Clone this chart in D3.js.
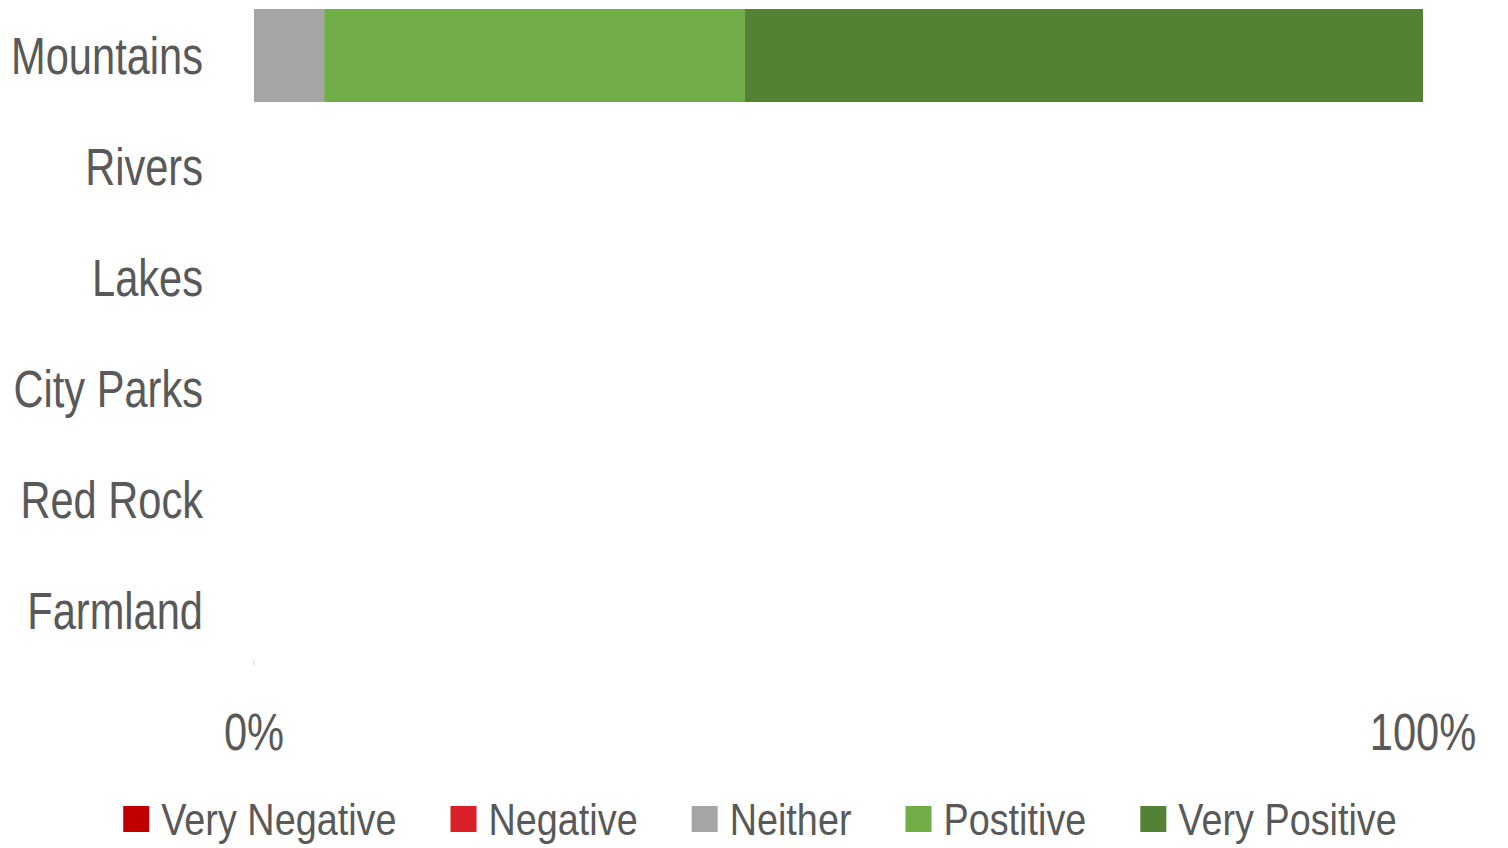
<!DOCTYPE html>
<html>
<head>
  <meta charset="utf-8">
  <style>
    body { margin: 0; background: #fff; }
    svg { display: block; font-family: "Liberation Sans Narrow", "Arial Narrow", "Liberation Sans", Arial, sans-serif; }
    svg text { fill: #595959; }
  </style>
</head>
<body>
  <svg width="1508" height="848"></svg>
  <script src="https://d3js.org/d3.v7.min.js"></script>
  <script>
    // categories (top to bottom)
    var categories = ["Mountains", "Rivers", "Lakes", "City Parks", "Red Rock", "Farmland"];
    var seriesKeys = ["Very Negative", "Negative", "Neither", "Postitive", "Very Positive"];
    var seriesColors = ["#C00000", "#DA1F28", "#A5A5A5", "#70AD47", "#548235"];

    // percent values per series, one per category
    var veryNegative = [0, 0, 0, 0, 0, 0];
    var negative     = [0, 0, 0, 0, 0, 0];
    var neither      = [6, 0, 0, 0, 0, 0];
    var positive     = [36, 0, 0, 0, 0, 0];
    var veryPositive = [58, 0, 0, 0, 0, 0];

    var xTicks = [0, 100];

    var seriesValues = [veryNegative, negative, neither, positive, veryPositive];

    var data = categories.map(function(c, i) {
      var row = {cat: c};
      seriesKeys.forEach(function(k, j) { row[k] = seriesValues[j][i]; });
      return row;
    });

    var svg = d3.select("svg");

    // narrow look: squeeze the regular sans horizontally
    var sx = 0.8, sxLegend = 0.84;

    var x = d3.scaleLinear().domain([0, 100]).range([254, 1423]);
    var y = d3.scaleBand().domain(categories).range([0, 666])
      .paddingInner(0.162).paddingOuter(0.081);
    var z = d3.scaleOrdinal().domain(seriesKeys).range(seriesColors);

    var stack = d3.stack().keys(seriesKeys)(data);

    svg.append("g")
      .selectAll("g")
      .data(stack)
      .enter().append("g")
      .attr("fill", function(d) { return z(d.key); })
      .selectAll("rect")
      .data(function(d) { return d; })
      .enter().append("rect")
      .attr("x", function(d) { return x(d[0]); })
      .attr("y", function(d) { return y(d.data.cat); })
      .attr("width", function(d) { return x(d[1]) - x(d[0]); })
      .attr("height", y.bandwidth());

    // small axis tick at the bottom
    svg.append("line")
      .attr("x1", x(0)).attr("x2", x(0))
      .attr("y1", 660).attr("y2", 666)
      .attr("stroke", "#d9d9d9")
      .attr("stroke-width", 1);

    // category labels
    svg.append("g")
      .selectAll("text")
      .data(categories)
      .enter().append("text")
      .attr("transform", function(d) {
        return "translate(203," + (y(d) + y.bandwidth() / 2) + ") scale(" + sx + ",1)";
      })
      .attr("dy", "0.35em")
      .attr("text-anchor", "end")
      .attr("font-size", 52)
      .text(function(d) { return d; });

    // x axis labels
    svg.append("g")
      .selectAll("text")
      .data(xTicks)
      .enter().append("text")
      .attr("transform", function(d) { return "translate(" + x(d) + ",750) scale(" + sx + ",1)"; })
      .attr("text-anchor", "middle")
      .attr("font-size", 52)
      .text(function(d) { return d + "%"; });

    // legend
    var legend = svg.append("g");
    var sw = 26, gapText = 12, gapItem = 54, offset = 0;
    var items = legend.selectAll("g")
      .data(seriesKeys)
      .enter().append("g");

    items.append("rect")
      .attr("width", sw)
      .attr("height", sw)
      .attr("y", 806)
      .attr("fill", z);

    items.append("text")
      .attr("transform", "translate(" + (sw + gapText) + ",835) scale(" + sxLegend + ",1)")
      .attr("font-size", 45)
      .text(function(d) { return d; });

    items.each(function() {
      var g = d3.select(this);
      var w = g.select("text").node().getComputedTextLength() * sxLegend;
      g.attr("transform", "translate(" + offset + ",0)");
      offset += sw + gapText + w + gapItem;
    });
    var total = offset - gapItem;
    legend.attr("transform", "translate(" + (760 - total / 2) + ",0)");
  </script>
</body>
</html>
